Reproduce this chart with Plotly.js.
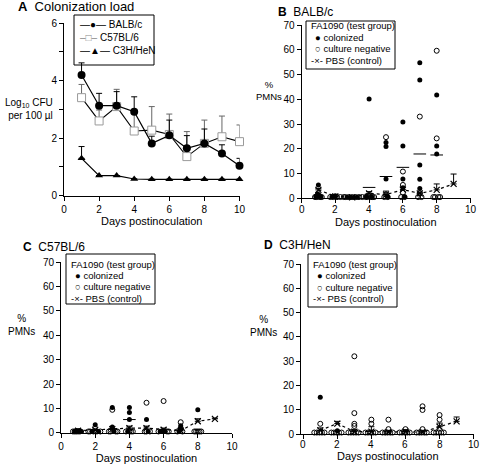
<!DOCTYPE html>
<html><head><meta charset="utf-8">
<script src="https://cdn.plot.ly/plotly-3.0.1.min.js"></script>
<style>html,body{margin:0;padding:0;background:#fff}#chart{width:480px;height:465px}</style>
</head><body><div id="chart"></div>
<script>
// ---------- Panel A: colonization load ----------
const days = [1,2,3,4,5,6,7,8,9,10];
const balbMean = [4.2, 3.13, 3.13, 2.92, 1.82, 2.1, 1.65, 1.82, 1.47, 1.04];
const balbErr  = [0.42, 0.43, 0.49, 0.52, 0.25, 0.53, 0.44, 0.5, 0.3, 0.26];
const c57Mean  = [3.41, 2.6, 3.1, 2.25, 2.28, 2.13, 1.36, 1.82, 2.05, 1.88];
const c57Err   = [0.46, 0.38, 0.6, 0.7, 0.82, 0.71, 0.87, 0.81, 0.72, 0.58];
const c3hMean  = [1.3, 0.7, 0.7, 0.58, 0.57, 0.57, 0.57, 0.57, 0.57, 0.57];
const c3hErr   = [0.41, 0, 0, 0, 0, 0, 0, 0, 0, 0];

// ---------- PBS controls (days 1-9) ----------
const pbsDays = [1,2,3,4,5,6,7,8,9];
const bPbs    = [3.4, 0.8, 0.4, 2.0, 1.5, 3.5, 2.0, 3.4, 5.8];
const bPbsErr = [0.6, 0.7, 0.3, 0.7, 1.4, 1.0, 0.5, 2.4, 4.0];
const cPbs    = [0.8, 1.2, 1.5, 1.9, 1.9, 1.2, 0.8, 4.7, 5.7];
const cPbsErr = [0.3, 0.3, 0.3, 0.8, 0.8, 0.7, 0.4, 1.0, 0.3];
const dPbs    = [1.5, 4.3, 1.0, 1.0, 0.8, 1.0, 0.8, 3.0, 5.2];
const dPbsErr = [1.0, 0.9, 0.8, 2.0, 0.5, 0.8, 0.5, 1.5, 1.8];

// ---------- Panel B: BALB/c %PMNs ----------
const bColX = [1.0,0.95,1.05,0.85,1.15,1.0,2.0,1.8,2.7,2.9,3.1,3.3,4.0,3.85,4.15,5.0,5.0,5.0,5.1,6.0,6.0,6.0,6.0,6.1,7.0,7.0,7.0,7.0,7.0,8.0,8.0,8.0];
const bColY = [5.4,1.8,1.2,0.8,0.6,0.5,1.0,0.5,0.4,0.4,0.4,0.4,40.1,0.5,0.5,22.5,20.9,7.8,0.5,30.8,21.1,7.8,4.3,0.5,54.8,47.8,13.5,7.7,4.0,41.7,21.1,17.9];
const bNegX = [0.8,0.9,1.1,1.2,1.7,1.9,2.1,2.3,2.5,2.6,2.8,3.0,3.2,3.4,3.6,3.8,3.9,4.1,4.2,4.3,5.0,4.9,5.1,5.0,6.0,6.0,6.0,5.9,6.1,7.0,7.0,6.9,7.1,8.0,8.0,7.8,7.9,8.1,8.2];
const bNegY = [0.5,0.5,0.5,0.5,0.5,0.5,0.5,0.5,0.5,0.5,0.5,0.5,0.5,0.5,0.5,0.5,0.5,0.5,0.5,0.5,24.7,0.5,0.5,1.5,10.8,5.4,2.3,0.5,0.5,33.0,2.0,0.5,0.5,59.6,24.2,0.5,0.5,0.5,0.5];
const bMeanX = [4, 5, 6, 7, 8];
const bMeanY = [4.4, 8.8, 12.5, 17.9, 17.5];

// ---------- Panel C: C57BL/6 %PMNs ----------
const cColX = [0.9,1.0,1.1,0.8,1.2,2.0,1.8,2.2,3.0,3.0,3.1,4.0,4.0,4.0,3.9,5.0,5.1,5.8,5.9,6.0,6.1,7.0,7.0,6.9,8.0];
const cColY = [0.8,0.8,0.8,0.5,0.5,3.3,0.5,0.5,10.4,2.3,0.5,10.4,8.3,5.4,0.5,5.4,0.5,0.5,0.5,0.5,0.5,2.9,1.5,0.5,9.4];
const cNegX = [0.7,0.8,0.9,1.0,1.1,1.6,1.7,1.9,2.1,2.3,3.0,2.8,2.9,3.2,3.3,3.8,4.0,4.1,4.2,5.0,4.9,5.0,5.2,6.0,6.2,6.3,5.7,7.0,7.0,7.1,6.8,7.8,7.9,8.0,8.1,8.2];
const cNegY = [0.5,0.5,0.5,0.5,0.5,0.5,0.5,0.5,0.5,0.5,9.4,0.5,0.5,0.5,0.5,0.5,0.5,0.5,0.5,12.3,0.5,0.5,0.5,13.0,0.5,0.5,0.5,4.3,1.8,0.5,0.5,0.5,0.5,0.5,0.5,0.5];
const cMeanX = [4];
const cMeanY = [5.4];

// ---------- Panel D: C3H/HeN %PMNs ----------
const dColX = [1.0, 2.0];
const dColY = [15.1, 1.3];
const dNegX = [1.0,0.65,0.8,0.95,1.1,1.25,1.65,1.8,1.95,2.1,2.25,3.0,3.0,3.0,3.0,2.65,2.8,2.95,3.1,3.25,4.0,4.0,3.65,3.8,3.95,4.1,4.25,5.0,5.0,4.65,4.8,4.95,5.1,5.25,6.0,5.65,5.8,5.95,6.1,6.25,7.0,7.0,7.0,6.65,6.8,6.95,7.1,7.25,8.0,8.0,7.65,7.8,7.95,8.1,8.25];
const dNegY = [4.2,0.6,0.6,0.6,0.6,0.6,0.6,0.6,0.6,0.6,0.6,32.0,8.6,4.2,3.3,0.6,0.6,0.6,0.6,0.6,5.9,4.2,0.6,0.6,0.6,0.6,0.6,5.9,2.0,0.6,0.6,0.6,0.6,0.6,2.0,0.6,0.6,0.6,0.6,0.6,11.4,9.9,2.0,0.6,0.6,0.6,0.6,0.6,7.8,5.9,0.6,0.6,0.6,0.6,0.6];

const xTickVals = [0, 2, 4, 6, 8, 10];
const xTickText = ['0', '2', '4', '6', '8', '10'];

// ---------- helpers ----------
const W = 480, H = 465;
const px = v => v / W;
const py = v => 1 - v / H;
const FONT = 'Liberation Sans, Arial, Helvetica, sans-serif';

function pmnTraces(n, colX, colY, negX, negY, pbsY, pbsErr, meanX, meanY) {
  const xa = 'x' + n, ya = 'y' + n;
  const t = [];
  t.push({x: pbsDays, y: pbsY, xaxis: xa, yaxis: ya, type: 'scatter', mode: 'lines+markers',
    line: {color: '#000', width: 1.2, dash: 'dot'},
    marker: {symbol: 'x-thin', size: 6, line: {color: '#000', width: 1.2}},
    error_y: {type: 'data', symmetric: false, array: pbsErr, arrayminus: pbsErr.map(() => 0),
      color: '#000', thickness: 1, width: 3},
    cliponaxis: false, showlegend: false, hoverinfo: 'skip'});
  t.push({x: negX, y: negY, xaxis: xa, yaxis: ya, type: 'scatter', mode: 'markers',
    marker: {symbol: 'circle-open', size: 5, color: '#000', line: {width: 1}},
    cliponaxis: false, showlegend: false});
  t.push({x: colX, y: colY, xaxis: xa, yaxis: ya, type: 'scatter', mode: 'markers',
    marker: {symbol: 'circle', size: 5, color: '#000'},
    cliponaxis: false, showlegend: false});
  if (meanX) {
    t.push({x: meanX, y: meanY, xaxis: xa, yaxis: ya, type: 'scatter', mode: 'markers',
      marker: {symbol: 'line-ew', size: 9, line: {color: '#000', width: 1}},
      cliponaxis: false, showlegend: false});
  }
  return t;
}

const traces = [
  {x: days, y: c3hMean, xaxis: 'x', yaxis: 'y', type: 'scatter', mode: 'lines+markers', name: 'C3H/HeN',
   line: {color: '#000', width: 1.2}, marker: {symbol: 'triangle-up', size: 7, color: '#000'},
   error_y: {type: 'data', symmetric: false, array: c3hErr, arrayminus: c3hErr.map(() => 0), color: '#000', thickness: 1, width: 3},
   cliponaxis: false, showlegend: false},
  {x: days, y: c57Mean, xaxis: 'x', yaxis: 'y', type: 'scatter', mode: 'lines+markers', name: 'C57BL/6',
   line: {color: '#000', width: 1.1}, marker: {symbol: 'square', size: 8, color: '#fff', line: {color: '#9a9a9a', width: 1}},
   error_y: {type: 'data', symmetric: false, array: c57Err, arrayminus: c57Err.map(() => 0), color: '#666', thickness: 1, width: 3},
   cliponaxis: false, showlegend: false},
  {x: days, y: balbMean, xaxis: 'x', yaxis: 'y', type: 'scatter', mode: 'lines+markers', name: 'BALB/c',
   line: {color: '#000', width: 1.2}, marker: {symbol: 'circle', size: 8, color: '#000'},
   error_y: {type: 'data', symmetric: false, array: balbErr, arrayminus: balbErr.map(() => 0), color: '#000', thickness: 1, width: 3},
   cliponaxis: false, showlegend: false},
  ...pmnTraces(2, bColX, bColY, bNegX, bNegY, bPbs, bPbsErr, bMeanX, bMeanY),
  ...pmnTraces(3, cColX, cColY, cNegX, cNegY, cPbs, cPbsErr, cMeanX, cMeanY),
  ...pmnTraces(4, dColX, dColY, dNegX, dNegY, dPbs, dPbsErr, null, null)
];

function ax(extra) {
  return Object.assign({showline: true, linecolor: '#000', linewidth: 1, ticks: 'outside', ticklen: 4,
    tickcolor: '#000', tickwidth: 1, showgrid: false, zeroline: false, fixedrange: true,
    ticklabeloverflow: 'allow', automargin: false,
    tickfont: {family: FONT, size: 10, color: '#000'}}, extra);
}
const xTitle = {text: 'Days postinoculation', font: {family: FONT, size: 11, color: '#000'}, standoff: 1};

const layout = {
  width: W, height: H, margin: {l: 0, r: 0, t: 0, b: 0},
  paper_bgcolor: '#fff', plot_bgcolor: 'rgba(0,0,0,0)', showlegend: false,
  font: {family: FONT, color: '#000'},
  xaxis:  ax({domain: [px(64), px(239.5)], range: [0, 10], tickvals: xTickVals, ticktext: xTickText, anchor: 'y', title: xTitle}),
  yaxis:  ax({domain: [py(195.7), py(23.2)], range: [0, 6], dtick: 2, anchor: 'x',
              minor: {dtick: 1, ticks: 'outside', ticklen: 4, tickcolor: '#000'}}),
  xaxis2: ax({domain: [px(301.5), px(470.5)], range: [0, 10], tickvals: xTickVals, showticklabels: false, anchor: 'y2'}),
  yaxis2: ax({domain: [py(198.3), py(25)], range: [0, 70], dtick: 10, anchor: 'x2'}),
  xaxis3: ax({domain: [px(61), px(232)], range: [0, 10], tickvals: xTickVals, ticktext: xTickText, anchor: 'y3', title: xTitle}),
  yaxis3: ax({domain: [py(432.7), py(262.3)], range: [0, 70], dtick: 10, anchor: 'x3'}),
  xaxis4: ax({domain: [px(301), px(474)], range: [-0.13, 10.02], tickvals: xTickVals, showticklabels: false, anchor: 'y4'}),
  yaxis4: ax({domain: [py(434), py(264)], range: [0, 70], dtick: 10, anchor: 'x4'}),
  shapes: [
    {type: 'rect', xref: 'paper', yref: 'paper', x0: px(74), x1: px(154), y0: py(65), y1: py(15), line: {color: '#000', width: 1}, fillcolor: '#fff', layer: 'below'},
    {type: 'rect', xref: 'paper', yref: 'paper', x0: px(306), x1: px(395), y0: py(69), y1: py(21), line: {color: '#000', width: 1}, fillcolor: 'rgba(0,0,0,0)'},
    {type: 'rect', xref: 'paper', yref: 'paper', x0: px(66), x1: px(155), y0: py(304), y1: py(254), line: {color: '#000', width: 1}, fillcolor: 'rgba(0,0,0,0)'},
    {type: 'rect', xref: 'paper', yref: 'paper', x0: px(308), x1: px(397), y0: py(307), y1: py(254), line: {color: '#000', width: 1}, fillcolor: 'rgba(0,0,0,0)'}
  ],
  annotations: []
};

function ann(text, x, y, o) {
  layout.annotations.push(Object.assign({text: text, xref: 'paper', yref: 'paper', x: px(x), y: py(y),
    showarrow: false, xanchor: 'left', yanchor: 'middle', align: 'left',
    font: {family: FONT, size: 9.5, color: '#000'}}, o || {}));
}
// x tick labels and titles for panels B and D, placed through the x axes' own scales
function tickLabels(xref, yPix, titleY) {
  xTickVals.forEach((v, i) => layout.annotations.push({text: xTickText[i], xref: xref, yref: 'paper',
    x: v, y: py(yPix), showarrow: false, xanchor: 'center', yanchor: 'middle',
    font: {family: FONT, size: 10, color: '#000'}}));
  layout.annotations.push({text: 'Days postinoculation', xref: xref + ' domain', yref: 'paper',
    x: 0.5, y: py(titleY), showarrow: false, xanchor: 'center', yanchor: 'middle',
    font: {family: FONT, size: 11, color: '#000'}});
}
tickLabels('x2', 209.5, 222);
tickLabels('x4', 444.5, 456);

// panel titles
ann('<b>A</b>  Colonization load', 16, 7, {font: {family: FONT, size: 13, color: '#000'}});
ann('<b>B</b>  BALB/c', 276, 12, {font: {family: FONT, size: 12, color: '#000'}});
ann('<b>C</b>  C57BL/6', 21, 247, {font: {family: FONT, size: 12, color: '#000'}});
ann('<b>D</b>  C3H/HeN', 262, 245, {font: {family: FONT, size: 12, color: '#000'}});
// y titles (horizontal)
ann('Log<sub>10</sub> CFU<br>per 100 µl', 55, 109, {xanchor: 'right', align: 'right', font: {family: FONT, size: 10, color: '#000'}});
ann('%<br>PMNs', 269, 90, {xanchor: 'center', align: 'center', font: {family: FONT, size: 9.5, color: '#000'}});
ann('%<br>PMNs', 21, 325, {xanchor: 'center', align: 'center', font: {family: FONT, size: 10, color: '#000'}});
ann('%<br>PMNs', 263, 326, {xanchor: 'center', align: 'center', font: {family: FONT, size: 10, color: '#000'}});
// legend A
ann('—●— BALB/c', 78, 24, {font: {family: FONT, size: 10, color: '#000'}});
ann('<span style="color:#888">–□–</span> C57BL/6', 78, 37, {font: {family: FONT, size: 10, color: '#000'}});
ann('—▲— C3H/HeN', 78, 50, {font: {family: FONT, size: 10, color: '#000'}});
// legends B, C, D
function pmnLegend(x, y0) {
  ann('FA1090 (test group)', x, y0);
  ann('● colonized', x + 4, y0 + 11);
  ann('○ culture negative', x + 4, y0 + 22.5);
  ann('-×- PBS (control)', x, y0 + 34);
}
pmnLegend(309, 26);
pmnLegend(69, 264);
pmnLegend(311, 264.5);

Plotly.newPlot('chart', traces, layout, {displayModeBar: false, staticPlot: true});
</script></body></html>
